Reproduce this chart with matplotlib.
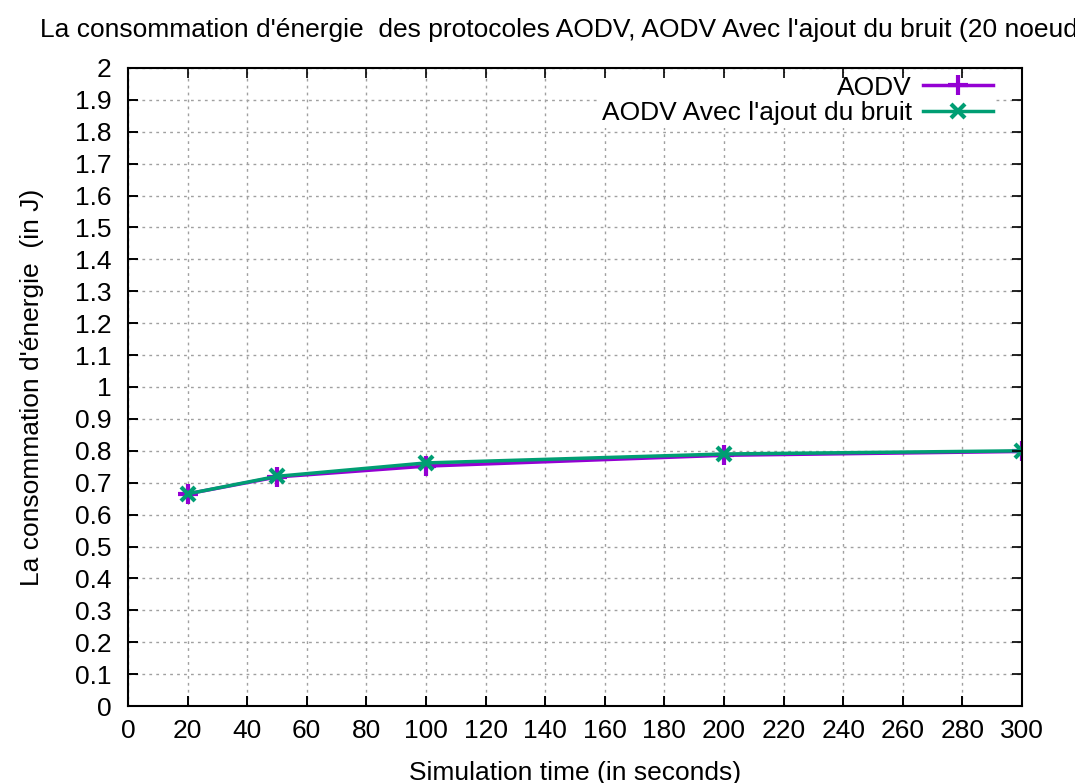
import matplotlib.pyplot as plt
from matplotlib.ticker import MultipleLocator, FormatStrFormatter

plt.rcParams['font.family'] = ['Liberation Sans', 'DejaVu Sans']

# Temps de simulation (s) et consommation d'énergie (J)
temps = [20, 50, 100, 200, 300]
energie_aodv = [0.665, 0.718, 0.752, 0.786, 0.798]
energie_bruit = [0.665, 0.720, 0.762, 0.790, 0.800]

fs = 19
pos = [0.119, 0.0983, 0.8317, 0.8149]

fig = plt.figure(figsize=(10.75, 7.83), dpi=100)
ax = fig.add_axes(pos)

ax.plot(temps, energie_aodv, color='#9400D3', lw=2.5, marker='+', ms=14, mew=3,
        label='AODV')
ax.plot(temps, energie_bruit, color='#009E73', lw=2.5, marker='x', ms=10, mew=3,
        label="AODV Avec l'ajout du bruit")

ax.set_xlim(0, 300)
ax.set_ylim(0, 2)
ax.xaxis.set_major_locator(MultipleLocator(20))
ax.yaxis.set_major_locator(MultipleLocator(0.1))
ax.yaxis.set_major_formatter(FormatStrFormatter('%g'))
ax.tick_params(direction='in', length=7, width=1.2, labelsize=fs)
ax.tick_params(axis='x', pad=9)
ax.tick_params(axis='y', pad=12)
for s in ax.spines.values():
    s.set_visible(False)

ax.grid(True, color='#a0a0a0', linestyle=(0, (2, 3)), lw=1)

ax.set_xlabel('Simulation time (in seconds)', fontsize=fs, labelpad=13)
ax.set_ylabel("La consommation d'énergie  (in J)", fontsize=fs, labelpad=22)

fig.text(0.037, 0.962,
         "La consommation d'énergie  des protocoles AODV, AODV Avec l'ajout du bruit (20 noeuds)",
         fontsize=fs, ha='left', va='center')

leg = ax.legend(loc='upper right', bbox_to_anchor=(0.97, 0.992),
                markerfirst=False, fontsize=fs,
                frameon=True, facecolor='white', edgecolor='none', framealpha=1,
                borderpad=0.1, labelspacing=0.05, handlelength=2.65,
                handletextpad=0.4, borderaxespad=0, fancybox=False)

# cadre et graduations miroir par-dessus la légende
cadre = fig.add_axes(pos, sharex=ax, sharey=ax, zorder=10)
cadre.patch.set_alpha(0)
for s in cadre.spines.values():
    s.set_linewidth(1.5)
cadre.tick_params(direction='in', length=7, width=1.2, labelbottom=False,
                  labelleft=False, top=True, right=True)

fig.savefig('out.png', dpi=100)
